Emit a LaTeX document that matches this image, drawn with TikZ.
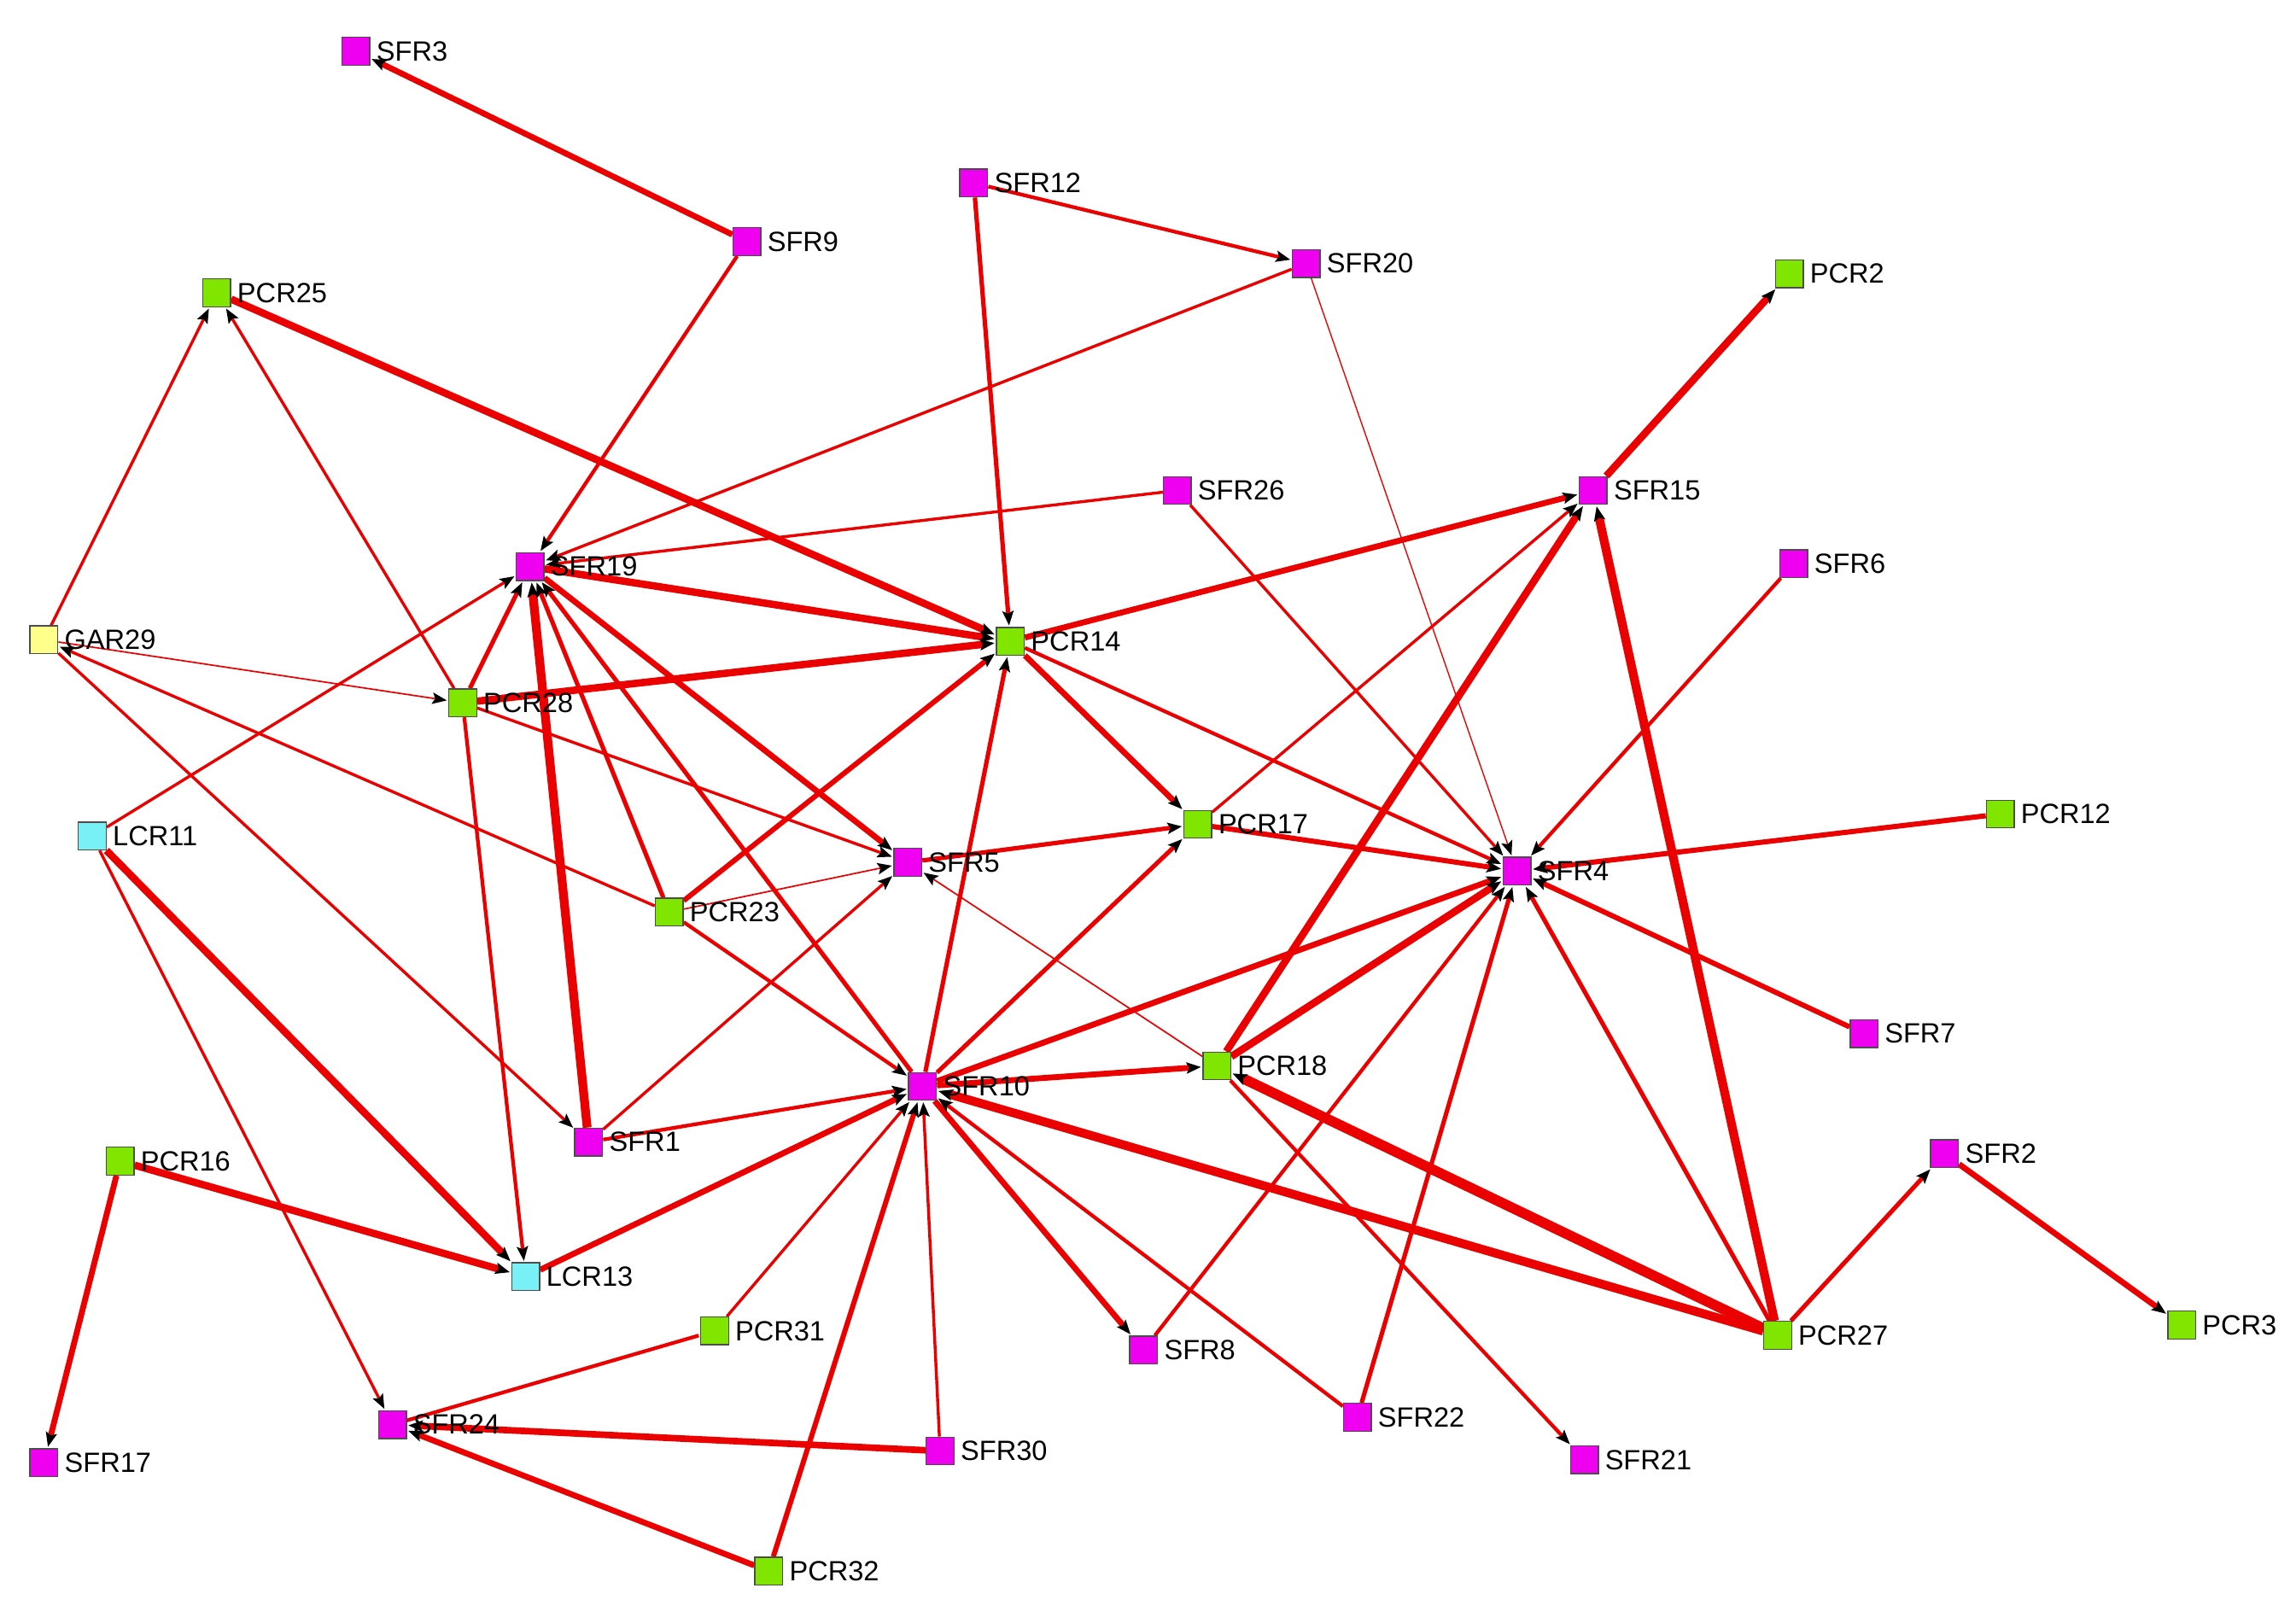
\documentclass[tikz,border=0pt]{standalone}
\usepackage{fontspec}
\setmainfont{Liberation Sans}
\usetikzlibrary{arrows.meta}
\begin{document}
\begin{tikzpicture}[x=1pt,y=-1pt,
 nd/.style={draw=black!70,line width=0.8pt,minimum size=19pt,inner sep=0pt,fill=#1},
 lab/.style={font=\fontsize{19}{20}\selectfont,anchor=west,inner sep=1pt},
 e/.style={draw={rgb,255:red,235;green,0;blue,0},line width=#1,-{Stealth[length=10pt,width=8pt,inset=2pt,color=black,line width=0pt]},shorten >=1pt},
 e/.default=2pt]
\useasboundingbox[fill=white] (0,0) rectangle (1568,1108);
\definecolor{mg}{RGB}{240,0,240}\definecolor{gr}{RGB}{128,230,0}\definecolor{cy}{RGB}{120,240,245}\definecolor{yl}{RGB}{255,255,140}
\def\nodelist{SFR3/243/35/mg,SFR9/510/165/mg,SFR12/665/125/mg,SFR20/892/180/mg,PCR2/1222/187/gr,PCR25/148/200/gr,SFR15/1088/335/mg,SFR26/804/335/mg,SFR6/1225/385/mg,SFR19/362/387/mg,GAR29/30/437/yl,PCR14/690/438/gr,PCR28/316/480/gr,LCR11/63/571/cy,PCR17/818/563/gr,PCR12/1366/556/gr,SFR5/620/589/mg,SFR4/1036/595/mg,PCR23/457/623/gr,SFR7/1273/706/mg,PCR18/831/728/gr,SFR10/630/742/mg,SFR1/402/780/mg,PCR16/82/793/gr,SFR2/1328/788/mg,LCR13/359/872/cy,PCR27/1214/912/gr,PCR3/1490/905/gr,PCR31/488/909/gr,SFR8/781/922/mg,SFR22/927/968/mg,SFR24/268/973/mg,SFR30/642/991/mg,SFR21/1082/997/mg,SFR17/30/999/mg,PCR32/525/1073/gr}
\foreach \n/\x/\y/\c in \nodelist {\coordinate (\n) at (\x,\y); \path (\n) node[nd=\c,draw=none,fill=none] (\n) {};}
\foreach \a/\b/\w in {SFR9/SFR3/4pt,SFR9/SFR19/2.5pt,SFR12/SFR20/2.5pt,SFR12/PCR14/3pt,SFR20/SFR19/2pt,SFR20/SFR4/0.8pt,SFR15/PCR2/5pt,PCR25/PCR14/5pt,GAR29/PCR25/2pt,PCR28/PCR25/2pt,GAR29/PCR28/1pt,GAR29/SFR1/2pt,PCR23/GAR29/2pt,SFR26/SFR19/2pt,SFR26/SFR4/2pt,PCR14/SFR15/4pt,SFR6/SFR4/2.5pt,SFR19/PCR14/5pt,PCR28/PCR14/5pt,PCR28/SFR19/3pt,SFR1/SFR19/6pt,PCR23/SFR19/3pt,SFR10/SFR19/3pt,SFR19/SFR5/4pt,LCR11/SFR19/2pt,PCR28/SFR5/2pt,PCR28/LCR13/2.5pt,PCR14/PCR17/4pt,PCR14/SFR4/2.5pt,PCR23/PCR14/3.5pt,PCR23/SFR5/1pt,SFR10/PCR14/3pt,SFR1/SFR5/2pt,SFR5/PCR17/3pt,PCR17/SFR4/3.5pt,PCR17/SFR15/2pt,PCR12/SFR4/3.5pt,SFR7/SFR4/3.5pt,SFR10/PCR17/3pt,SFR10/SFR4/4pt,PCR18/SFR4/5pt,PCR18/SFR15/5pt,PCR18/SFR5/1pt,SFR8/SFR4/2.5pt,SFR22/SFR4/3pt,PCR27/SFR4/3pt,PCR27/SFR15/6pt,PCR27/SFR10/6pt,PCR27/PCR18/7pt,PCR27/SFR2/3pt,SFR2/PCR3/4pt,SFR10/PCR18/4pt,SFR1/SFR10/2.5pt,LCR13/SFR10/4pt,PCR31/SFR10/2pt,SFR30/SFR10/2pt,PCR32/SFR10/3.5pt,SFR10/SFR8/4pt,SFR22/SFR10/2.5pt,PCR23/SFR10/2.5pt,LCR11/LCR13/5pt,LCR11/SFR24/2pt,PCR16/LCR13/5pt,PCR16/SFR17/4pt,SFR30/SFR24/4.5pt,PCR32/SFR24/4pt,PCR18/SFR21/2.5pt}
{\path[e=\w] (\a) -- (\b);}
\path[e=2.5pt,-] (SFR24) -- (PCR31);
\foreach \n/\x/\y/\c in \nodelist
{\node[nd=\c] (\n-b) at (\x,\y) {}; \node[lab] at ([xshift=3pt]\n-b.east) {\n};}
\end{tikzpicture}
\end{document}
